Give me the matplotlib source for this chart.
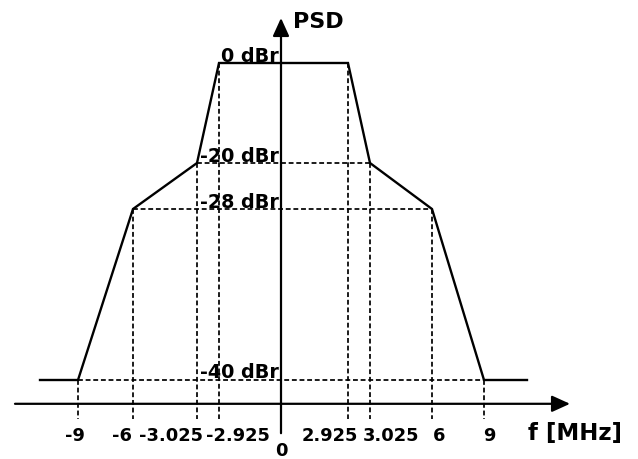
import numpy as np
import matplotlib
matplotlib.use("Agg")
import matplotlib.pyplot as plt

# ---------------- data ----------------
mask_freq = [-12, -9, -6, -3.025, -2.925, 2.925, 3.025, 6, 9, 12]      # MHz
mask_dbr = [-40, -40, -28, -20, 0, 0, -20, -28, -40, -40]            # dBr
tick_freqs = [-9, -6, -3.025, -2.925, 0, 2.925, 3.025, 6, 9]
tick_labels = ["-9", "-6", "-3.025", "-2.925", "0", "2.925", "3.025", "6", "9"]
level_values = [0, -20, -28, -40]
level_labels = ["0 dBr", "-20 dBr", "-28 dBr", "-40 dBr"]
# horizontal guide extents (corner frequency for each level)
guide_freq = [2.925, 3.025, 6, 9]

# ------------- schematic (non-linear) layout scales -------------
W, H = 638, 459
fx = np.array([-100, -12, -9, -6, -3.025, -2.925, 0, 2.925, 3.025, 6, 9, 12, 100])
px = np.array([-1104, 40, 78, 133, 197, 219, 281, 348, 370, 432, 484, 527, 1759], float)
fy = np.array([-100, -45, -40, -28, -20, 0, 100])
py = -np.array([1220, 450, 380, 209, 163, 63, -437], float)

def xf(v):
    return np.interp(v, fx, px)

def xi(v):
    return np.interp(v, px, fx)

def yf(v):
    return np.interp(v, fy, py)

def yi(v):
    return np.interp(v, py, fy)

plt.rcParams['font.family'] = ['DejaVu Sans']
plt.rcParams['font.weight'] = 'bold'

fig = plt.figure(figsize=(W / 100, H / 100), dpi=100)
ax = fig.add_axes([0, 0, 1, 1])
ax.set_xscale('function', functions=(xf, xi))
ax.set_yscale('function', functions=(yf, yi))
ax.set_xlim(float(xi(0)), float(xi(W)))
ax.set_ylim(float(yi(-H)), float(yi(0)))
ax.axis('off')

X_AXIS_LEVEL = -41.7
DROP_LEVEL = -42.8
Y_AXIS_BOTTOM = -43.8
Y_AXIS_TOP = 9.0
X_AXIS_LEFT = float(xi(15))
X_AXIS_RIGHT = float(xi(570))

dash = dict(color='black', lw=1.25, linestyle=(0, (2.8, 1.6)))

# dashed verticals from each mask corner down past the axis
corner_level = dict(zip(mask_freq, mask_dbr))
for f in tick_freqs:
    if f == 0:
        continue
    ax.plot([f, f], [corner_level[f], DROP_LEVEL], **dash)

# dashed horizontals at -20, -28, -40
for lev, fe in zip(level_values, guide_freq):
    if lev == 0:
        continue
    ax.plot([-fe, fe], [lev, lev], **dash)

# mask
ax.plot(mask_freq, mask_dbr, color='black', lw=1.7, solid_joinstyle='miter')

# axes with arrows
arrow = dict(arrowstyle='-|>,head_length=1.1,head_width=0.5', color='black',
             lw=1.6, shrinkA=0, shrinkB=0, mutation_scale=10)
ax.annotate('', xy=(X_AXIS_RIGHT, X_AXIS_LEVEL), xytext=(X_AXIS_LEFT, X_AXIS_LEVEL),
            arrowprops=arrow)
ax.annotate('', xy=(0, Y_AXIS_TOP), xytext=(0, Y_AXIS_BOTTOM), arrowprops=arrow)

# tick labels (schematic offsets, pixels)
tick_dx = [-3, -11, -25.5, 18.5, 0, -18, 21.5, 7.5, 5]
tick_dy = [-37, -37, -37, -37, -52, -37, -37, -37, -37]
for f, lab, dx, dy in zip(tick_freqs, tick_labels, tick_dx, tick_dy):
    ax.annotate(lab, xy=(f, X_AXIS_LEVEL), xytext=(dx, dy), textcoords='offset pixels',
                ha='center', va='baseline', fontsize=12.9, fontweight='bold')

# level labels
for lev, lab in zip(level_values, level_labels):
    ax.annotate(lab, xy=(0, lev), xytext=(-2, 1.5), textcoords='offset pixels',
                ha='right', va='baseline', fontsize=13.8, fontweight='bold')

# axis titles
ax.annotate('PSD', xy=(0, Y_AXIS_TOP), xytext=(12, -10), textcoords='offset pixels',
            ha='left', va='baseline', fontsize=16, fontweight='bold')
ax.annotate('f [MHz]', xy=(X_AXIS_RIGHT, X_AXIS_LEVEL), xytext=(-42, -36),
            textcoords='offset pixels', ha='left', va='baseline', fontsize=16.5,
            fontweight='bold')

fig.savefig('out.png', dpi=100)
